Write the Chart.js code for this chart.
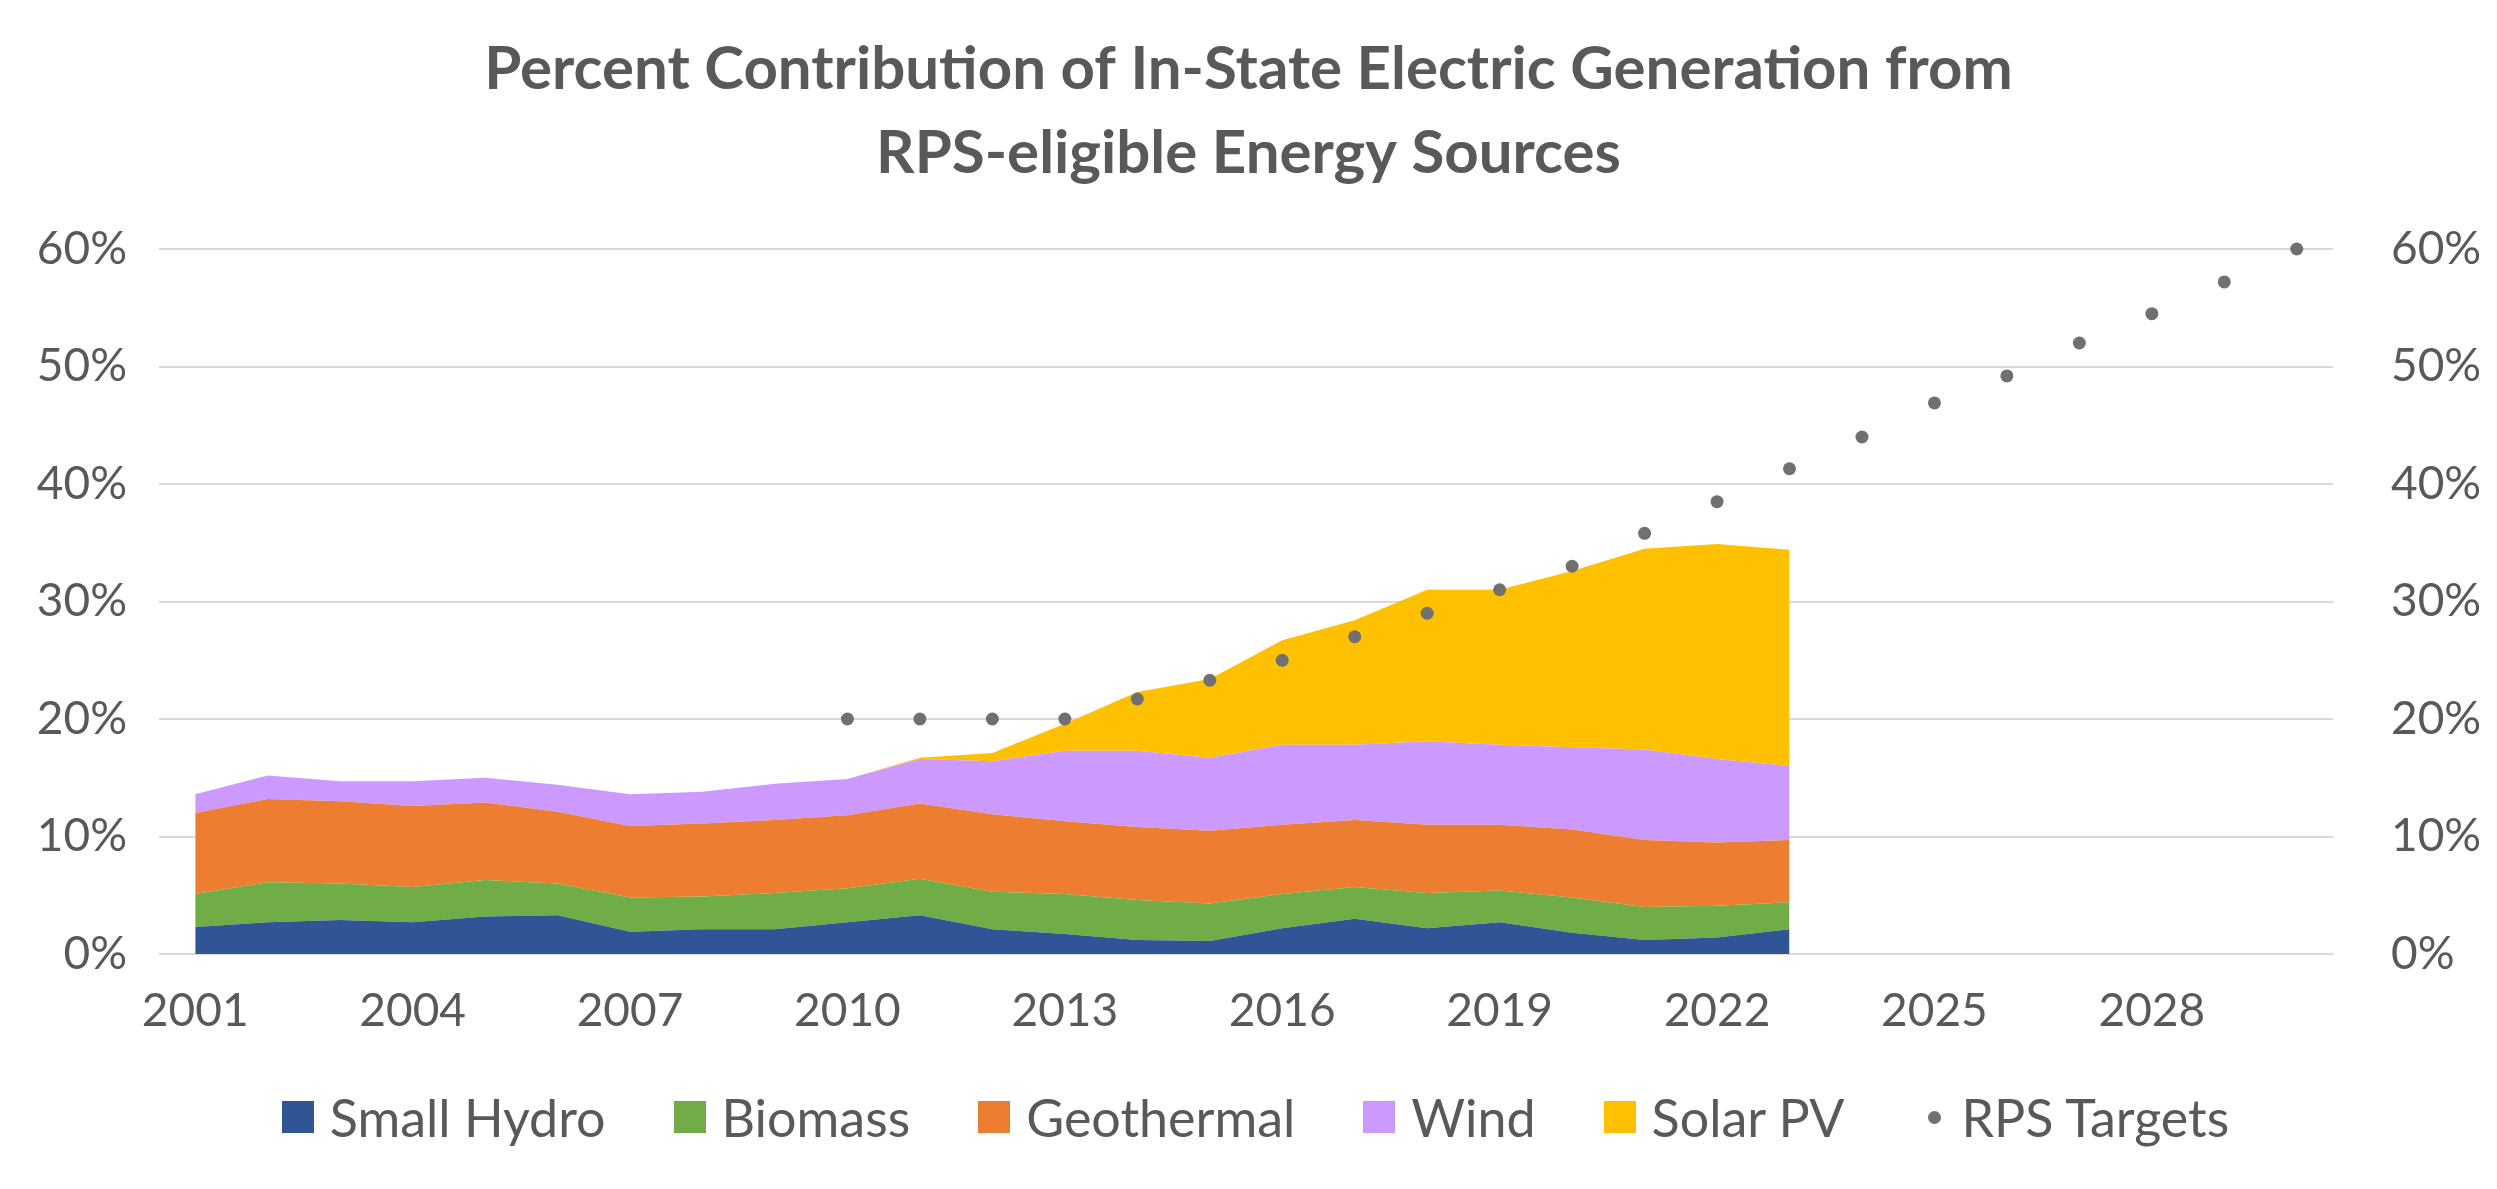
<!DOCTYPE html>
<html>
<head>
<meta charset="utf-8">
<script src="https://cdn.jsdelivr.net/npm/chart.js@4.4.1/dist/chart.umd.min.js"></script>
<style>
  html, body { margin: 0; padding: 0; background: #fff; }
  #wrap { position: relative; width: 2497px; height: 1189px; }
  #legend {
    position: absolute; left: 0; right: 0; top: 1086px;
    display: flex; justify-content: center; align-items: center;
    font-family: Lato, "Open Sans", sans-serif; font-size: 52px; color: #595959;
    padding-left: 14px;
  }
  .item { display: flex; align-items: center; margin-right: 68px; }
  .item:last-child { margin-right: 0; }
  .box { width: 32px; height: 32px; margin-right: 16px; }
  .dot { width: 13px; height: 13px; border-radius: 50%; background: #707070; margin-right: 20px; margin-left: 16px; }
</style>
</head>
<body>
<div id="wrap">
  <canvas id="chart" width="2497" height="1189"></canvas>
  <div id="legend"></div>
</div>
<script>
const years = ["2001","2002","2003","2004","2005","2006","2007","2008","2009","2010",
  "2011","2012","2013","2014","2015","2016","2017","2018","2019","2020",
  "2021","2022","2023","2024","2025","2026","2027","2028","2029","2030"];

// percent shares, 2001-2023
const smallHydro = [2.3, 2.7, 2.9, 2.7, 3.2, 3.3, 1.9, 2.1, 2.1, 2.7, 3.3, 2.1, 1.7, 1.2, 1.1, 2.2, 3.0, 2.2, 2.7, 1.8, 1.2, 1.4, 2.1];
const biomass    = [2.8, 3.4, 3.1, 3.0, 3.1, 2.7, 2.9, 2.8, 3.1, 2.9, 3.1, 3.2, 3.4, 3.4, 3.2, 2.9, 2.7, 3.0, 2.7, 3.0, 2.8, 2.7, 2.3];
const geothermal = [6.9, 7.1, 7.0, 6.9, 6.6, 6.1, 6.1, 6.2, 6.2, 6.2, 6.4, 6.6, 6.2, 6.2, 6.2, 5.9, 5.7, 5.8, 5.6, 5.8, 5.7, 5.4, 5.3];
const wind       = [1.6, 2.0, 1.7, 2.1, 2.1, 2.3, 2.7, 2.7, 3.1, 3.1, 3.8, 4.5, 6.0, 6.5, 6.2, 6.8, 6.4, 7.1, 6.8, 7.0, 7.7, 7.1, 6.3];
const solarPV    = [0, 0, 0, 0, 0, 0, 0, 0, 0, 0, 0.1, 0.7, 2.3, 5.0, 6.7, 8.9, 10.6, 12.9, 13.2, 15.0, 17.1, 18.3, 18.4];

// RPS targets, 2010-2030
const rpsTargets = [null, null, null, null, null, null, null, null, null,
  20, 20, 20, 20, 21.7, 23.3, 25, 27, 29, 31, 33, 35.8, 38.5, 41.3, 44, 46.9, 49.2, 52, 54.5, 57.2, 60];

const yTicks = [0, 10, 20, 30, 40, 50, 60];

const TEXT = "#595959";
const FONT = "Lato, 'Open Sans', sans-serif";

const series = [
  { label: "Small Hydro", data: smallHydro, color: "#2F5597" },
  { label: "Biomass", data: biomass, color: "#70AD47" },
  { label: "Geothermal", data: geothermal, color: "#ED7D31" },
  { label: "Wind", data: wind, color: "#CC99FF" },
  { label: "Solar PV", data: solarPV, color: "#FFC000" },
];

const datasets = series.map((s, i) => ({
  label: s.label,
  data: s.data,
  backgroundColor: s.color,
  borderWidth: 0,
  pointRadius: 0,
  fill: i === 0 ? "origin" : "-1",
  yAxisID: "y",
  tension: 0,
}));

datasets.push({
  label: "RPS Targets",
  data: rpsTargets,
  showLine: false,
  pointRadius: 6.5,
  pointBackgroundColor: "#707070",
  pointBorderWidth: 0,
  yAxisID: "y1",
  order: -1,
  clip: false,
});

const tickFont = { family: FONT, size: 46 };

new Chart(document.getElementById("chart"), {
  type: "line",
  data: { labels: years, datasets },
  options: {
    responsive: false,
    animation: false,
    layout: { padding: { top: 28, bottom: 120, left: 0, right: 0 } },
    plugins: {
      legend: { display: false },
      tooltip: { enabled: false },
      title: {
        display: true,
        text: ["Percent Contribution of In-State Electric Generation from", "RPS-eligible Energy Sources"],
        color: TEXT,
        font: { family: FONT, size: 60, weight: "bold", lineHeight: 1.4 },
        padding: { top: 0, bottom: 53 },
      },
    },
    scales: {
      x: {
        offset: true,
        grid: { display: false },
        border: { display: false },
        ticks: {
          color: TEXT, font: tickFont, autoSkip: false, maxRotation: 0, padding: 22,
          callback: (v, i) => (i % 3 === 0 ? years[i] : ""),
        },
        afterFit: (s) => { s.height = 115; },
      },
      y: {
        stacked: true,
        min: 0, max: 60,
        afterBuildTicks: (s) => { s.ticks = yTicks.map((v) => ({ value: v })); },
        grid: { color: "#D9D9D9", lineWidth: 2, drawTicks: false },
        border: { display: false },
        ticks: { color: TEXT, font: tickFont, padding: 32, callback: (v) => v + "%" },
        afterFit: (s) => { s.width = 159; },
      },
      y1: {
        position: "right",
        min: 0, max: 60,
        afterBuildTicks: (s) => { s.ticks = yTicks.map((v) => ({ value: v })); },
        grid: { display: false },
        border: { display: false },
        ticks: { color: TEXT, font: tickFont, padding: 50, callback: (v) => v + "%" },
        afterFit: (s) => { s.width = 164; },
      },
    },
  },
});

const legend = document.getElementById("legend");
series.forEach((s) => {
  const it = document.createElement("div");
  it.className = "item";
  it.innerHTML = `<span class="box" style="background:${s.color}"></span><span>${s.label}</span>`;
  legend.appendChild(it);
});
const rps = document.createElement("div");
rps.className = "item";
rps.innerHTML = `<span class="dot"></span><span>RPS Targets</span>`;
legend.appendChild(rps);
</script>
</body>
</html>
